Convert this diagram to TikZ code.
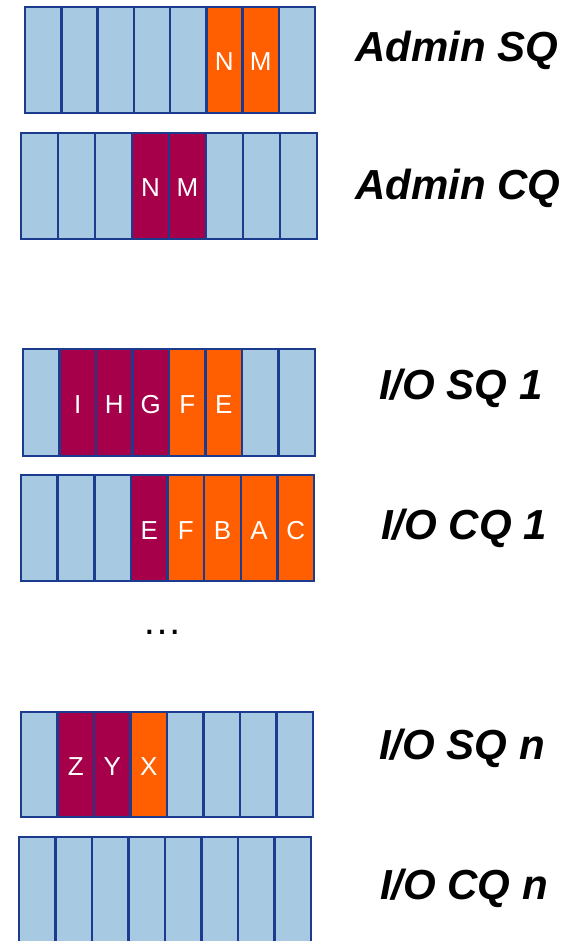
\documentclass[tikz,border=0pt]{standalone}
\usepackage{fontspec}
\setmainfont{Liberation Sans}

\definecolor{slotfree}{HTML}{A7C9E1}
\definecolor{slotsub}{HTML}{FF5F00}
\definecolor{slotdone}{HTML}{A6004A}
\definecolor{slotedge}{HTML}{1B3B8E}

\tikzset{
  cell/.style={draw=slotedge, line width=2.5pt, inner sep=0pt, outer sep=0pt,
    text=white, font=\fontsize{26}{30}\selectfont,
    text height=22pt, text depth=0pt},
  qfree/.style={cell, fill=slotfree},
  qsub/.style={cell, fill=slotsub},
  qdone/.style={cell, fill=slotdone},
  qlabel/.style={font=\fontsize{42}{48}\selectfont\bfseries\itshape, inner sep=0pt, anchor=base},
}

% one queue of eight slots: name, left, right, top, bottom, slot list
\newcommand\queuerow[6]{%
  \pgfmathsetmacro\slotw{(#3-#2)/8}%
  \foreach [count=\k] \st/\tx in {#6} {
    \node[\st, minimum width=\slotw pt, minimum height={(#5-#4)*1pt}]
      (#1c\k) at ({#2+(\k-0.5)*\slotw}, {(#4+#5)/2}) {\tx};
  }%
}

\begin{document}
\begin{tikzpicture}[x=1pt, y=-1pt]
  \useasboundingbox (0,0) rectangle (580,941);
  \clip (0,0) rectangle (580,941);

  \queuerow{asq}{25}{315}{7}{113}{qfree/{},qfree/{},qfree/{},qfree/{},qfree/{},qsub/N,qsub/M,qfree/{}}
  \queuerow{acq}{21}{317}{133}{239}{qfree/{},qfree/{},qfree/{},qdone/N,qdone/M,qfree/{},qfree/{},qfree/{}}
  \queuerow{sqa}{23}{315}{349}{456}{qfree/{},qdone/I,qdone/H,qdone/G,qsub/F,qsub/E,qfree/{},qfree/{}}
  \queuerow{cqa}{21}{314}{475}{581}{qfree/{},qfree/{},qfree/{},qdone/E,qsub/F,qsub/B,qsub/A,qsub/C}
  \queuerow{sqn}{21}{313}{712}{817}{qfree/{},qdone/Z,qdone/Y,qsub/X,qfree/{},qfree/{},qfree/{},qfree/{}}
  \queuerow{cqn}{19}{311}{837}{943}{qfree/{},qfree/{},qfree/{},qfree/{},qfree/{},qfree/{},qfree/{},qfree/{}}

  \node[font=\fontsize{40}{44}\selectfont, inner sep=0pt, anchor=base] (gap) at (162,634) {…};

  \node[qlabel] (lasq) at (457,62) {Admin SQ};
  \node[qlabel] (lacq) at (458,200) {Admin CQ};
  \node[qlabel] (lsqa) at (461,399) {I/O SQ 1};
  \node[qlabel] (lcqa) at (464,539) {I/O CQ 1};
  \node[qlabel] (lsqn) at (462,759) {I/O SQ n};
  \node[qlabel] (lcqn) at (464,899) {I/O CQ n};
\end{tikzpicture}
\end{document}
